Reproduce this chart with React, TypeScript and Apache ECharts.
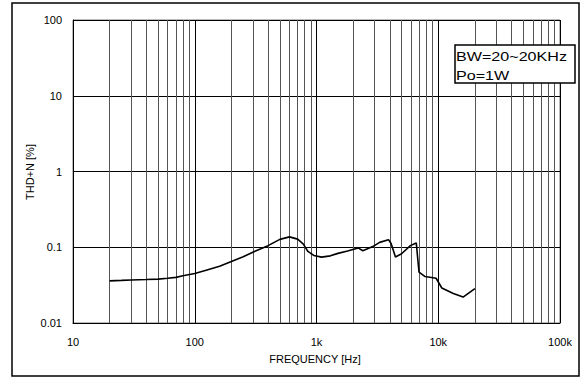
import React, { useEffect, useRef } from "react";
import * as echarts from "echarts";

const freqHz = [
  20, 25, 30, 40, 50, 60, 70, 80, 100, 120, 160, 200, 250, 300, 400, 500, 600,
  700, 780, 850, 950, 1100, 1300, 1500, 1800, 2200, 2400, 2900, 3300, 3900,
  4100, 4450, 5000, 5900, 6600, 6950, 7800, 9600, 10700, 13300, 16000, 20000,
];
const thdPct = [
  0.036, 0.0365, 0.037, 0.0375, 0.038, 0.039, 0.04, 0.042, 0.045, 0.049, 0.056,
  0.065, 0.075, 0.086, 0.105, 0.127, 0.137, 0.128, 0.11, 0.088, 0.078, 0.074,
  0.077, 0.083, 0.089, 0.098, 0.09, 0.102, 0.116, 0.126, 0.112, 0.0745, 0.082,
  0.105, 0.114, 0.047, 0.041, 0.039, 0.029, 0.0245, 0.022, 0.0285,
];
const minorFreqs = [
  20, 30, 40, 50, 60, 70, 80, 90, 200, 300, 400, 500, 600, 700, 800, 900, 2000,
  3000, 4000, 5000, 6000, 7000, 8000, 9000, 20000, 30000, 40000, 50000, 60000,
  70000, 80000, 90000,
];
const xTickLabels: Record<number, string> = {
  10: "10",
  100: "100",
  1000: "1k",
  10000: "10k",
  100000: "100k",
};
const yTickLabels: Record<number, string> = {
  0.01: "0.01",
  0.1: "0.1",
  1: "1",
  10: "10",
  100: "100",
};
const noteLines = ["BW=20~20KHz", "Po=1W"];
const xTitle = "FREQUENCY [Hz]";
const yTitle = "THD+N [%]";

const FONT = "'Liberation Sans', Arial, sans-serif";

export default function App() {
  const ref = useRef<HTMLDivElement>(null);
  useEffect(() => {
    if (!ref.current) return;
    const chart = echarts.init(ref.current, undefined, { renderer: "svg" });
    const fmt = (map: Record<number, string>) => (v: number) => {
      for (const k of Object.keys(map)) {
        const n = Number(k);
        if (Math.abs(Math.log10(n) - Math.log10(v)) < 1e-6) return map[n];
      }
      return "";
    };
    chart.setOption({
      animation: false,
      backgroundColor: "#fff",
      grid: {
        left: 73,
        right: 21,
        top: 20,
        bottom: 55,
        show: true,
        borderColor: "#777",
        borderWidth: 1,
      },
      xAxis: {
        type: "log",
        logBase: 10,
        min: 10,
        max: 100000,
        axisLine: { show: true, lineStyle: { color: "#000", width: 1 } },
        axisTick: { show: false },
        axisLabel: {
          formatter: fmt(xTickLabels),
          color: "#000",
          fontSize: 11,
          fontFamily: FONT,
          margin: 13,
        },
        splitLine: { show: true, lineStyle: { color: "#000", width: 1 } },
      },
      yAxis: {
        type: "log",
        logBase: 10,
        min: 0.01,
        max: 100,
        axisLine: { show: true, lineStyle: { color: "#000", width: 1 } },
        axisTick: { show: false },
        axisLabel: {
          formatter: fmt(yTickLabels),
          color: "#000",
          fontSize: 11,
          fontFamily: FONT,
          margin: 11,
        },
        splitLine: { show: true, lineStyle: { color: "#000", width: 1 } },
      },
      series: [
        {
          type: "line",
          data: freqHz.map((f, i) => [f, thdPct[i]]),
          showSymbol: false,
          symbol: "none",
          lineStyle: { color: "#000", width: 1.6 },
          z: 5,
          markLine: {
            silent: true,
            symbol: "none",
            label: { show: false },
            lineStyle: { color: "#555", width: 1, type: "solid" },
            data: minorFreqs.map((f) => ({ xAxis: f })),
            z: 1,
          },
        },
      ],
      graphic: [
        {
          type: "rect",
          shape: { x: 12, y: 3, width: 567, height: 373 },
          style: { fill: "none", stroke: "#000", lineWidth: 1.5 },
          silent: true,
        },
        {
          type: "text",
          x: 30,
          y: 172,
          rotation: Math.PI / 2,
          style: {
            text: yTitle,
            fill: "#000",
            font: `11px ${FONT}`,
            align: "center",
            verticalAlign: "middle",
          },
        },
        {
          type: "text",
          x: 315,
          y: 359,
          style: {
            text: xTitle,
            fill: "#000",
            font: `11px ${FONT}`,
            align: "center",
            verticalAlign: "middle",
          },
        },
        {
          type: "rect",
          shape: { x: 455, y: 45, width: 120, height: 38 },
          style: { fill: "#fff", stroke: "#000", lineWidth: 1.5 },
          z: 100,
        },
        ...noteLines.map((t, i) => ({
          type: "text",
          x: 456,
          y: 57 + i * 18.3,
          scaleX: 1.24,
          z: 101,
          style: {
            text: t,
            fill: "#000",
            font: `13px ${FONT}`,
            align: "left",
            verticalAlign: "middle",
          },
        })),
      ],
    });
    return () => chart.dispose();
  }, []);
  return (
    <div
      ref={ref}
      style={{ position: "absolute", left: 0, top: 0, width: 581, height: 378 }}
    />
  );
}
